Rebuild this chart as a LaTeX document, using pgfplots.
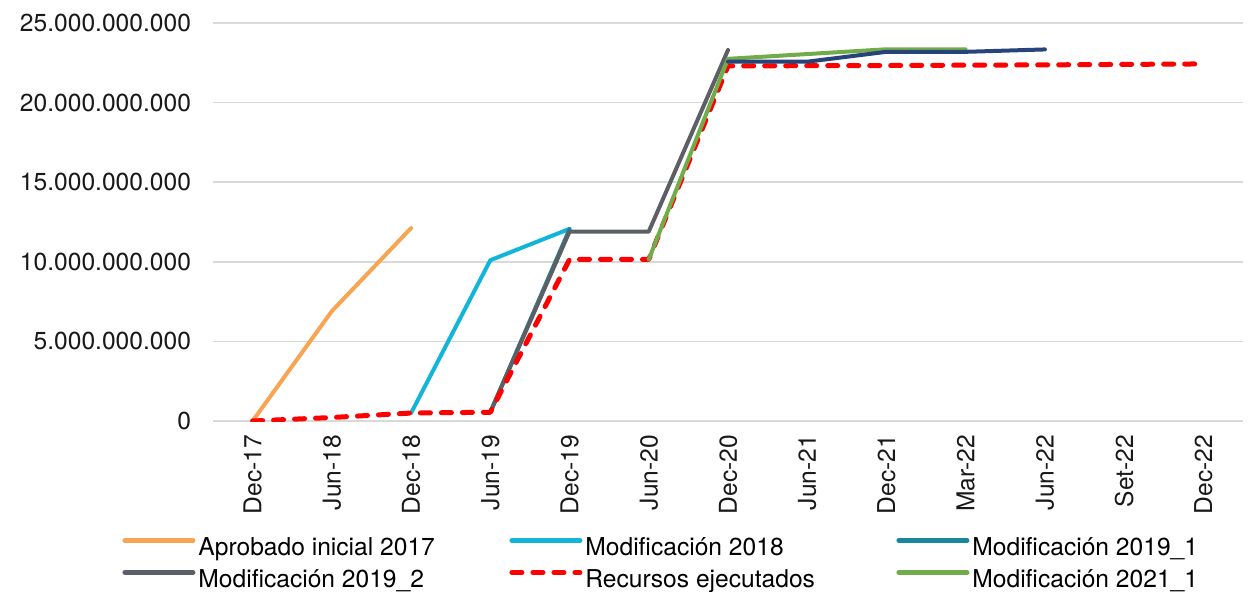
\documentclass[border=0pt]{standalone}
\usepackage{pgfplots}
\pgfplotsset{compat=1.18}
\usepackage{fontspec}
\setmainfont{TeX Gyre Heros}
\definecolor{corange}{HTML}{F7A552}
\definecolor{ccyan}{HTML}{12B5DA}
\definecolor{cteal}{HTML}{17879A}
\definecolor{cgrey}{HTML}{5D5F66}
\definecolor{cred}{HTML}{FF0000}
\definecolor{cgreen}{HTML}{71AC4B}
\definecolor{cnavy}{HTML}{264479}
\definecolor{cgrid}{HTML}{D9D9D9}
\newcommand{\lb}[1]{\makebox[155.5pt][l]{#1}}
\begin{document}
\begin{tikzpicture}
\begin{axis}[
  at={(0,0)}, anchor=south west,
  scale only axis, width=515pt, height=199pt,
  xmin=-0.5, xmax=12.5, ymin=0, ymax=25e9,
  xtick={0,...,12},
  xticklabels={Dec-17,Jun-18,Dec-18,Jun-19,Dec-19,Jun-20,Dec-20,Jun-21,Dec-21,Mar-22,Jun-22,Set-22,Dec-22},
  ytick={0,5e9,10e9,15e9,20e9,25e9},
  scaled y ticks=false,
  yticklabel style={/pgf/number format/fixed, /pgf/number format/1000 sep={.}, /pgf/number format/assume math mode=true, xshift=-7.5pt},
  font=\fontsize{12.3}{14}\selectfont,
  ticklabel style={font=\fontsize{12.3}{14}\selectfont, text=black!90},
  xticklabel style={yshift=-3.5pt, rotate=90, anchor=east},
  major tick length=0pt,
  axis line style={draw=none},
  ymajorgrids,
  major grid style={color=cgrid, line width=0.75pt},
  every axis plot/.append style={line width=2pt, line join=round, line cap=round},
  legend columns=3,
  legend cell align=left,
  legend image code/.code={\draw[#1, line width=2.5pt] (0pt,4.3pt) -- (34pt,4.3pt);},
  legend style={at={(-0.0883,-0.2905)}, anchor=north west, draw=none, fill=none,
    inner sep=0pt, row sep=4pt,
    nodes={inner sep=0pt, text height=9pt, text depth=3pt},
    /tikz/every odd column/.append style={column sep=1.5pt},
    /tikz/every even column/.append style={column sep=0pt}},
]
\addplot[corange] coordinates {(0,0) (1,6.9e9) (2,12.12e9)};
\addlegendentry{\lb{Aprobado inicial 2017}}
\addplot[ccyan] coordinates {(2,0.5e9) (3,10.1e9) (4,12.07e9)};
\addlegendentry{\lb{Modificación 2018}}
\addplot[cteal] coordinates {(3,0.55e9) (4,12.05e9)};
\addlegendentry{\lb{Modificación 2019\_1}}
\addplot[cgrey] coordinates {(3,0.55e9) (4,11.9e9) (5,11.9e9) (6,23.3e9)};
\addlegendentry{\lb{Modificación 2019\_2}}
\addplot[cred, line width=2.5pt, dash pattern=on 5pt off 5.5pt] coordinates {(0,0) (1,0.22e9) (2,0.5e9) (3,0.55e9) (4,10.15e9) (5,10.15e9) (6,22.3e9) (7,22.32e9) (8,22.33e9) (9,22.35e9) (10,22.37e9) (11,22.4e9) (12,22.43e9)};
\addlegendentry{\lb{Recursos ejecutados}}
\addplot[cgreen] coordinates {(5,10.15e9) (6,22.75e9) (7,23.05e9) (8,23.35e9) (9,23.35e9)};
\addlegendentry{\lb{Modificación 2021\_1}}
\addplot[cnavy, forget plot] coordinates {(6,22.57e9) (7,22.57e9) (8,23.19e9) (9,23.19e9) (10,23.34e9)};
\end{axis}
\pgfresetboundingbox
\useasboundingbox (-106.5pt,-85pt) rectangle (521pt,210.5pt);
\end{tikzpicture}
\end{document}
